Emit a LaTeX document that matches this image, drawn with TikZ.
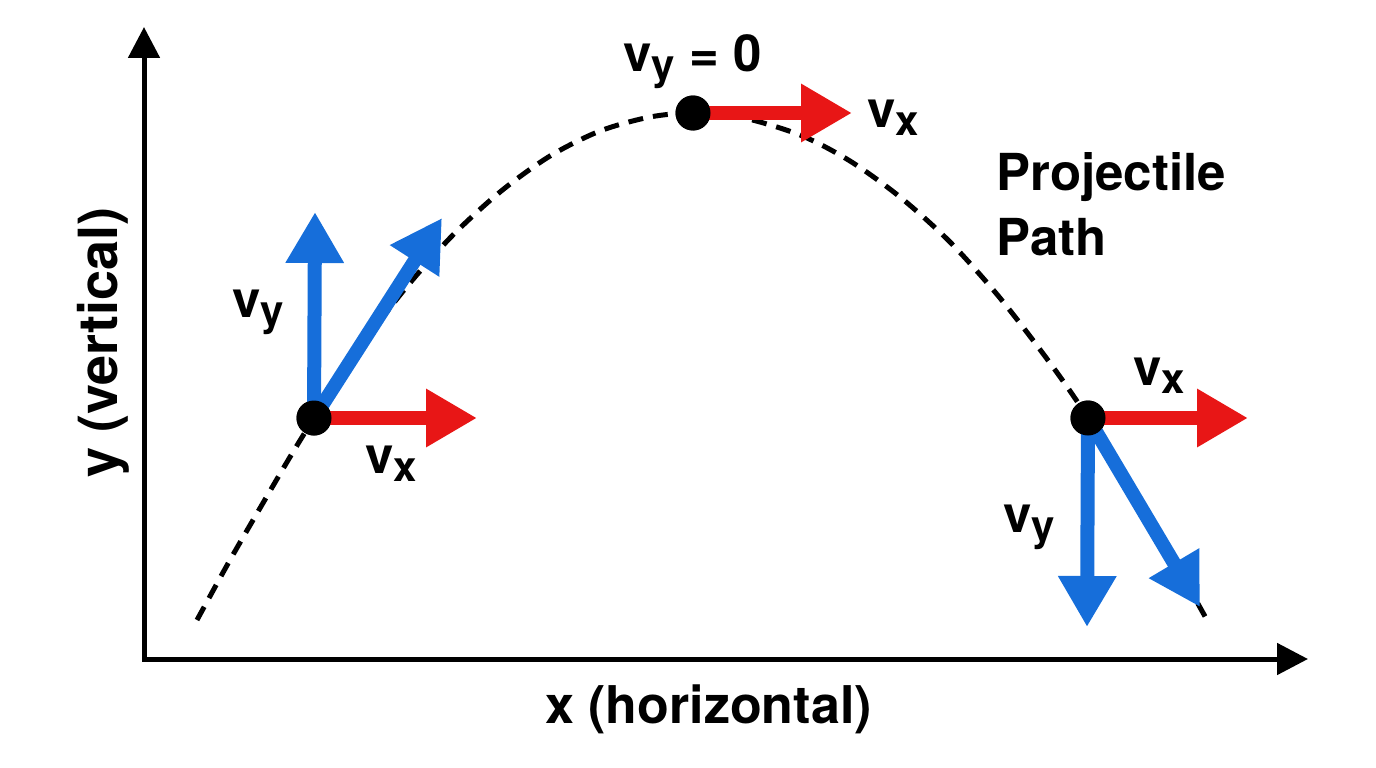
\documentclass[tikz,border=0pt]{standalone}
\usepackage{fontspec}
\setmainfont{TeX Gyre Heros}
\usetikzlibrary{arrows.meta}
\definecolor{vblue}{RGB}{22,110,218}
\definecolor{vred}{RGB}{232,22,22}
\newcommand\vlab[1]{v\raisebox{-8pt}{\fontsize{42}{42}\selectfont #1}}
\tikzset{
  vec/.style={line width=14pt,-{Triangle[length=51pt,width=55pt]}},
  axisline/.style={line width=5pt,{Triangle[length=31pt,width=31pt]}-{Triangle[length=31pt,width=31pt]}},
  pathline/.style={line width=5pt,dash pattern=on 15pt off 10pt},
  ball/.style={circle,fill=black,inner sep=0pt,minimum size=35pt},
  vtext/.style={font=\bfseries\fontsize{51}{51}\selectfont,inner sep=0pt,anchor=base west},
  bigtext/.style={font=\bfseries\fontsize{52}{52}\selectfont,inner sep=0pt,anchor=base west}
}
\begin{document}
\begin{tikzpicture}[x=1pt,y=-1pt]
\useasboundingbox (0,0) rectangle (1376,768);
% axes
\coordinate (ytip) at (144,27);
\coordinate (orig) at (144,659);
\coordinate (xtip) at (1308,659);
\draw[axisline] (ytip) -- (orig) -- (xtip);
% trajectory
\draw[pathline] plot[smooth] coordinates {(197,620) (230,560) (263,503) (290,457) (314,418) (350,362) (400,295) (450,238) (500,192) (550,156) (600,131) (650,117) (693,113) (740,117) (800,135) (850,161) (900,197) (950,242) (1000,298) (1050,363) (1088,418) (1150,519) (1207,620)};
% points
\node[ball] (d1) at (314,418) {};
\node[ball] (d2) at (693,113) {};
\node[ball] (d3) at (1088,418) {};
\coordinate (d1x) at (477,418);
\coordinate (d1y) at (315,212);
\coordinate (d1v) at (442,218);
\coordinate (d2x) at (852,113);
\coordinate (d3x) at (1248,418);
\coordinate (d3y) at (1087,627);
\coordinate (d3v) at (1200,607);
\draw[vec,vblue] (d1.center) -- (d1y);
\draw[vec,vblue] (d1.center) -- (d1v);
\draw[vec,vred] (d1.center) -- (d1x);
\draw[vec,vred] (d2.center) -- (d2x);
\draw[vec,vblue] (d3.center) -- (d3y);
\draw[vec,vblue] (d3.center) -- (d3v);
\draw[vec,vred] (d3.center) -- (d3x);
\node[ball] at (d1) {};
\node[ball] at (d2) {};
\node[ball] at (d3) {};
% labels
\node[vtext] (l1y) at (232,317) {\vlab{y}};
\node[vtext] (l1x) at (365,473) {\vlab{x}};
\node[vtext] (l2y) at (623,72) {\vlab{y} = 0};
\node[vtext] (l2x) at (867,127) {\vlab{x}};
\node[vtext] (l3x) at (1133,385) {\vlab{x}};
\node[vtext] (l3y) at (1003,532) {\vlab{y}};
\node[vtext] (proj) at (996,190) {Projectile};
\node[vtext] (path) at (996,255) {Path};
\node[bigtext] (xl) at (545,723) {x (horizontal)};
\node[bigtext,font=\bfseries\fontsize{54}{54}\selectfont,rotate=90] (yl) at (117,478) {y (vertical)};
\end{tikzpicture}
\end{document}
